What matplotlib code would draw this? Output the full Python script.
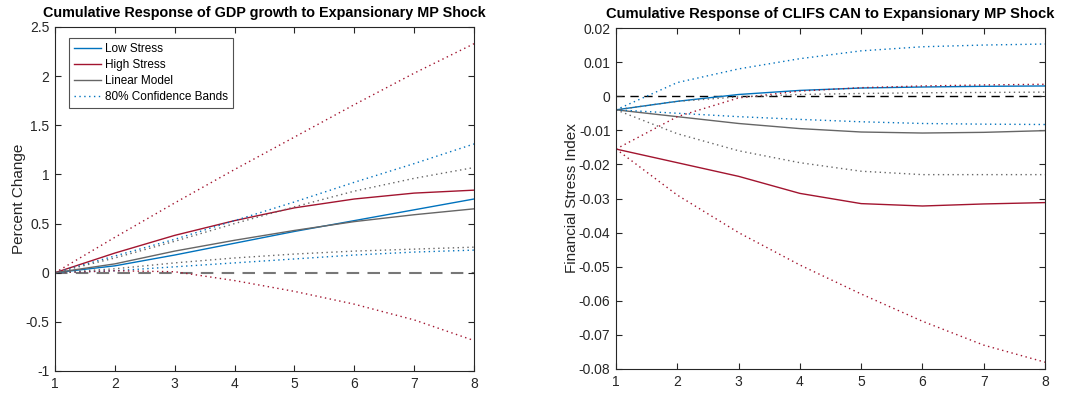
import matplotlib
matplotlib.use("Agg")
import matplotlib.pyplot as plt
import numpy as np

plt.rcParams['font.family'] = ['Liberation Sans', 'DejaVu Sans']

horizon = [1, 2, 3, 4, 5, 6, 7, 8]

# GDP growth responses
gdp_low = [0, 0.07, 0.18, 0.30, 0.42, 0.53, 0.64, 0.75]
gdp_low_up = [0, 0.17, 0.34, 0.53, 0.72, 0.92, 1.11, 1.31]
gdp_low_lo = [0, 0.02, 0.06, 0.10, 0.14, 0.18, 0.21, 0.23]
gdp_high = [0, 0.20, 0.38, 0.53, 0.66, 0.75, 0.81, 0.84]
gdp_high_up = [0, 0.36, 0.71, 1.05, 1.38, 1.71, 2.03, 2.33]
gdp_high_lo = [0, 0.02, 0.01, -0.08, -0.19, -0.32, -0.48, -0.69]
gdp_lin = [0, 0.09, 0.22, 0.33, 0.43, 0.52, 0.59, 0.65]
gdp_lin_up = [0, 0.15, 0.32, 0.50, 0.67, 0.83, 0.96, 1.07]
gdp_lin_lo = [0, 0.04, 0.10, 0.15, 0.19, 0.22, 0.24, 0.26]

# CLIFS responses
fs_low = [-0.004, -0.0015, 0.0005, 0.0017, 0.0024, 0.0027, 0.0029, 0.0030]
fs_low_up = [-0.004, 0.004, 0.008, 0.011, 0.0133, 0.0145, 0.0150, 0.0153]
fs_low_lo = [-0.004, -0.005, -0.006, -0.0068, -0.0075, -0.0080, -0.0082, -0.0083]
fs_high = [-0.0155, -0.0195, -0.0235, -0.0285, -0.0315, -0.0322, -0.0316, -0.0312]
fs_high_up = [-0.0155, -0.006, -0.0005, 0.0015, 0.0025, 0.0030, 0.0033, 0.0035]
fs_high_lo = [-0.0155, -0.029, -0.040, -0.0495, -0.058, -0.066, -0.073, -0.078]
fs_lin = [-0.004, -0.006, -0.008, -0.0095, -0.0105, -0.0108, -0.0106, -0.0101]
fs_lin_up = [-0.004, -0.0015, -0.0002, 0.0005, 0.0008, 0.0010, 0.0011, 0.0012]
fs_lin_lo = [-0.004, -0.011, -0.016, -0.0195, -0.022, -0.023, -0.023, -0.023]

BLUE = '#0072BD'
RED = '#A2142F'
GREY = '#666666'

fig = plt.figure(figsize=(10.67, 3.94), dpi=100)
W, H = 1067, 394
ax1 = fig.add_axes([55 / W, 1 - 371 / H, (474 - 55) / W, (371 - 27) / H])
ax2 = fig.add_axes([616 / W, 1 - 369 / H, (1045 - 616) / W, (369 - 28) / H])


def draw(ax, low, lowu, lowl, high, highu, highl, lin, linu, linl, zero_color, zero_lw):
    ax.plot(horizon, low, color=BLUE, lw=1.0, label='Low Stress')
    ax.plot(horizon, high, color=RED, lw=1.0, label='High Stress')
    ax.plot(horizon, lin, color=GREY, lw=1.0, label='Linear Model')
    ax.plot(horizon, lowu, color=BLUE, lw=1.0, ls=(0, (1, 2.5)), label='80% Confidence Bands')
    ax.plot(horizon, lowl, color=BLUE, lw=1.0, ls=(0, (1, 2.5)))
    ax.plot(horizon, highu, color=RED, lw=1.0, ls=(0, (1, 2.5)))
    ax.plot(horizon, highl, color=RED, lw=1.0, ls=(0, (1, 2.5)))
    ax.plot(horizon, linu, color=GREY, lw=1.0, ls=(0, (1, 2.5)))
    ax.plot(horizon, linl, color=GREY, lw=1.0, ls=(0, (1, 2.5)))
    ax.axhline(0, color=zero_color, lw=zero_lw, ls=(0, (6, 4)), zorder=1)
    ax.set_xlim(1, 8)
    ax.set_xticks(horizon)
    ax.tick_params(direction='in', length=4, labelsize=10, colors='#262626',
                   top=True, right=True, pad=4)
    for s in ax.spines.values():
        s.set_color('#262626')
        s.set_linewidth(0.8)


draw(ax1, gdp_low, gdp_low_up, gdp_low_lo, gdp_high, gdp_high_up, gdp_high_lo,
     gdp_lin, gdp_lin_up, gdp_lin_lo, '#777777', 1.5)
ax1.set_ylim(-1, 2.5)
ax1.set_yticks([-1, -0.5, 0, 0.5, 1, 1.5, 2, 2.5])
ax1.set_yticklabels(['-1', '-0.5', '0', '0.5', '1', '1.5', '2', '2.5'])
ax1.set_ylabel('Percent Change', fontsize=11, color='#262626', labelpad=0)
ax1.set_title('Cumulative Response of GDP growth to Expansionary MP Shock',
              fontsize=10.4, fontweight='bold', pad=7)
leg = ax1.legend(loc='upper left', bbox_to_anchor=(0.02, 0.985), fontsize=8.5,
                 frameon=True, fancybox=False, edgecolor='#262626', handlelength=2.3,
                 handletextpad=0.35, borderpad=0.4, labelspacing=0.35)
leg.get_frame().set_linewidth(0.8)

draw(ax2, fs_low, fs_low_up, fs_low_lo, fs_high, fs_high_up, fs_high_lo,
     fs_lin, fs_lin_up, fs_lin_lo, 'black', 1.0)
ax2.set_ylim(-0.08, 0.02)
yt = [-0.08, -0.07, -0.06, -0.05, -0.04, -0.03, -0.02, -0.01, 0, 0.01, 0.02]
ax2.set_yticks(yt)
ax2.set_yticklabels(['-0.08', '-0.07', '-0.06', '-0.05', '-0.04', '-0.03', '-0.02',
                     '-0.01', '0', '0.01', '0.02'])
ax2.set_ylabel('Financial Stress Index', fontsize=11, color='#262626', labelpad=0)
ax2.set_title('Cumulative Response of CLIFS CAN to Expansionary MP Shock',
              fontsize=10.6, fontweight='bold', pad=7)

fig.savefig('out.png', dpi=100)
